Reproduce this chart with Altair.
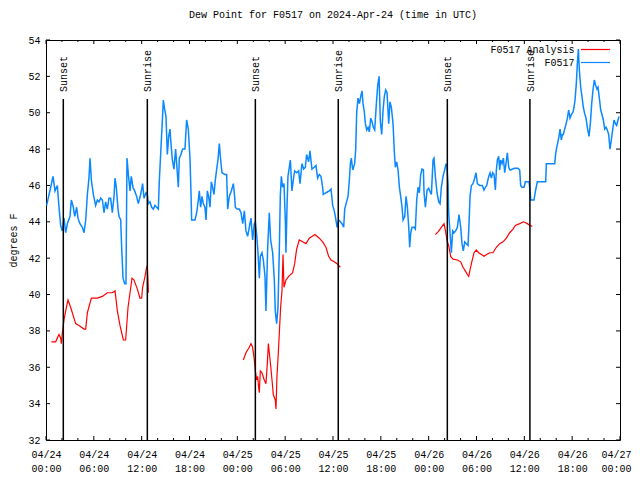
import json
import altair as alt
import pandas as pd

# ---------------- data (hours since 2024-04-24 00:00 UTC) ----------------
blue_hours = [
    0.08, 0.38, 0.59, 0.88, 1.13, 1.42, 1.63, 1.84, 2.05, 2.26, 2.47, 2.68, 3.01, 3.18, 3.43, 3.60,
    3.85, 4.01, 4.26, 4.56, 4.77, 4.98, 5.19, 5.39, 5.52, 5.69, 5.94, 6.23, 6.44, 6.65, 6.86, 7.07,
    7.28, 7.48, 7.69, 7.90, 8.11, 8.32, 8.53, 8.66, 8.82, 9.03, 9.16, 9.37, 9.49, 9.66, 9.87, 10.03,
    10.16, 10.33, 10.54, 10.70, 10.91, 11.12, 11.37, 11.58, 11.87,
    12.00, 12.12, 12.29, 12.54, 12.71, 12.84, 13.04, 13.25, 13.46, 13.67, 13.88, 14.09, 14.22, 14.38,
    14.55, 14.72, 14.84, 15.05, 15.22, 15.39, 15.55, 15.68, 15.85, 16.05, 16.26, 16.47, 16.60, 16.72,
    16.93, 17.14, 17.43, 17.64, 17.85, 18.06, 18.19, 18.27, 18.69, 18.90, 19.11, 19.23, 19.40, 19.57,
    19.73, 19.94, 20.07, 20.24, 20.40, 20.57, 20.74, 20.90, 21.07, 21.24, 21.41, 21.57, 21.74, 21.91,
    22.08, 22.45, 22.66, 22.79, 22.99, 23.25, 23.50, 23.66, 23.75, 23.95,
    24.25, 24.46, 24.67, 24.88, 25.08, 25.29, 25.50, 25.71, 25.92, 26.13, 26.26, 26.42, 26.55, 26.76,
    26.88, 27.09, 27.26, 27.47, 27.59, 27.80, 28.01, 28.18, 28.43, 28.64, 28.76, 28.93, 29.10, 29.27,
    29.39, 29.52, 29.68, 29.85, 30.02, 30.10, 30.23, 30.35, 30.52, 30.65, 30.85, 31.02, 31.19, 31.44,
    31.69, 31.86, 32.11, 32.32, 32.53, 32.69, 32.94, 33.11, 33.36, 33.66, 33.86, 34.07, 34.28, 34.49,
    34.70, 34.78, 35.12, 35.54, 35.75, 35.96, 36.16, 36.33,
    36.51, 36.72, 36.93, 37.13, 37.34, 37.47, 37.64, 37.89, 38.05, 38.18, 38.30, 38.47, 38.72, 38.85,
    38.97, 39.14, 39.31, 39.48, 39.64, 39.77, 39.94, 40.06, 40.23, 40.40, 40.56, 40.73, 40.90, 41.06,
    41.23, 41.44, 41.61, 41.78, 41.94, 42.11, 42.28, 42.44, 42.61, 42.78, 42.99, 43.15, 43.32, 43.53,
    43.70, 43.82, 43.99, 44.16, 44.33, 44.49, 44.66, 44.79, 45.00, 45.16, 45.33, 45.50, 45.62, 45.75,
    45.91, 46.17, 46.33, 46.50, 46.67, 46.83, 47.00, 47.17, 47.34, 47.42, 47.59, 47.80, 48.00,
    48.13, 48.34, 48.55, 48.67, 48.84, 49.05, 49.26, 49.43, 49.59, 49.80, 50.01, 50.18, 50.30, 50.43,
    50.51, 50.68, 50.85, 51.01, 51.18, 51.39, 51.60, 51.81, 52.02, 52.18, 52.35, 52.52, 52.73, 52.94,
    53.06, 53.19, 53.36, 53.56, 53.77, 53.94, 54.11, 54.40, 54.73, 54.94, 55.11, 55.28, 55.53, 55.70,
    55.86, 56.03, 56.20, 56.37, 56.49, 56.62, 56.78, 56.91, 57.03, 57.20, 57.37, 57.54, 57.70, 57.87,
    58.04, 58.21, 58.79, 59.21, 59.42, 59.54, 59.71, 59.96, 60.13, 60.59, 60.71, 60.80, 61.21, 61.42,
    61.63, 62.68, 62.76, 63.81, 63.93, 64.06, 64.22, 64.35, 64.48, 64.64, 64.77, 64.89, 65.06, 65.19,
    65.40, 65.56, 65.73, 65.90, 66.11, 66.23, 66.36, 66.52, 66.65, 66.78, 66.90, 67.07, 67.23, 67.40,
    67.57, 67.74, 67.90, 68.11, 68.28, 68.45, 68.61, 68.78, 68.95, 69.12, 69.24, 69.41, 69.58, 69.74,
    69.91, 70.08, 70.25, 70.41, 70.58, 70.75, 70.91, 71.08, 71.25, 71.42, 71.58, 71.75, 71.88,
]
blue_vals = [
    44.9, 45.5, 45.9, 46.5, 45.7, 46.0, 44.8, 43.8, 43.5, 44.2, 43.4, 43.9, 44.3, 45.2, 44.8, 44.3,
    44.8, 44.2, 43.9, 43.7, 43.4, 44.1, 45.5, 46.4, 47.5, 46.3, 45.5, 44.9, 45.2, 45.1, 45.3, 45.2,
    44.5, 45.1, 44.7, 45.3, 45.3, 44.5, 45.4, 46.4, 45.9, 44.7, 44.3, 44.1, 42.6, 40.9, 40.6, 40.6,
    47.5, 46.6, 45.7, 46.5, 45.9, 45.7, 45.4, 45.0, 45.5,
    45.8, 46.1, 45.3, 45.6, 45.5, 45.0, 45.1, 44.8, 44.7, 44.9, 44.8, 44.7, 46.3, 47.7,
    49.2, 50.7, 50.3, 49.8, 47.7, 48.7, 49.1, 48.3, 47.4, 46.9, 48.0, 46.7, 45.9, 47.5,
    47.7, 48.0, 48.0, 49.6, 49.1, 47.5, 45.6, 44.1, 44.1, 44.5, 45.2, 45.7, 44.8, 45.4,
    45.0, 44.8, 44.1, 45.7, 45.4, 44.8, 46.2, 45.9, 45.5, 46.3, 46.9, 47.4, 48.3, 47.4,
    46.7, 46.6, 46.6, 44.7, 45.4, 45.7, 46.1, 45.4, 44.8, 44.7,
    44.7, 44.5, 43.9, 44.6, 43.5, 43.2, 43.7, 44.2, 43.0, 43.9, 44.0, 43.3, 42.6, 40.9,
    42.1, 42.3, 41.9, 41.0, 39.1, 42.5, 44.5, 43.0, 42.3, 40.8, 39.1, 38.4, 39.3, 42.5,
    45.4, 46.5, 45.9, 46.1, 44.1, 42.3, 44.8, 46.5, 47.0, 47.4, 45.7, 46.3, 46.8, 46.7,
    46.8, 46.1, 47.2, 46.9, 47.0, 47.7, 47.3, 47.9, 46.9, 47.0, 47.1, 46.4, 46.6, 46.5,
    45.9, 45.5, 45.6, 45.7, 45.8, 44.9, 44.6, 44.2,
    43.7, 44.1, 44.0, 43.9, 43.7, 44.7, 45.0, 45.4, 46.3, 47.2, 47.5, 46.85, 47.2, 48.0,
    50.0, 50.8, 50.5, 50.9, 51.2, 50.5, 50.0, 49.4, 49.05, 49.2, 48.95, 49.7, 49.5, 49.2,
    49.05, 50.5, 51.5, 52.0, 49.5, 48.8, 50.15, 50.9, 51.25, 51.1, 49.4, 50.6, 50.3, 49.4,
    47.8, 47.0, 47.3, 46.85, 45.9, 45.4, 44.8, 44.1, 44.3, 45.4, 44.8, 43.7, 42.6, 43.4,
    43.7, 43.7, 43.6, 45.2, 45.9, 45.6, 46.6, 46.9, 46.85, 45.6, 44.8, 45.75, 45.85,
    45.7, 45.5, 47.4, 47.5, 46.5, 45.6, 45.1, 45.0, 45.9, 46.5, 46.85, 47.2, 47.0, 46.1,
    44.5, 43.4, 42.3, 43.5, 43.4, 43.5, 43.7, 44.4, 43.7, 42.8, 42.4, 42.9, 42.8, 42.7,
    43.9, 45.4, 46.0, 46.1, 46.4, 46.7, 46.1, 46.0, 46.0, 45.75, 45.9, 46.0, 46.5, 46.7,
    46.4, 46.7, 46.6, 45.75, 46.85, 47.4, 47.6, 46.85, 47.4, 47.2, 47.5, 46.7, 47.2, 47.8,
    47.0, 46.85, 46.95, 46.95, 46.85, 46.0, 45.9, 45.9, 46.2, 46.2, 45.75, 45.2, 45.2, 45.75,
    46.2, 46.2, 47.2, 47.2, 47.75, 48.1, 48.4, 48.7, 49.1, 48.5, 48.8, 48.8, 49.1, 49.3,
    49.7, 50.15, 49.7, 49.9, 50.05, 50.3, 50.7, 51.6, 52.7, 53.5, 52.35, 51.4, 50.9, 50.3,
    49.95, 49.7, 49.2, 48.7, 49.4, 50.5, 51.25, 51.8, 51.5, 51.3, 51.4, 50.8, 50.15, 49.9,
    49.6, 49.1, 49.2, 49.05, 48.8, 48.0, 48.5, 49.05, 49.6, 49.4, 49.3, 49.6, 49.8,
]

red1_hours = [0.67, 1.21, 1.63, 1.84, 1.92, 2.05, 2.26, 2.47, 2.76, 3.09, 3.72, 4.14, 4.77, 4.98,
              5.19, 5.69, 6.44, 7.07, 7.69, 8.32, 8.66, 8.95, 9.28, 9.70, 9.99, 10.29, 10.54,
              10.79, 11.04, 11.46, 11.79, 12.00, 12.12, 12.42, 12.63, 12.71, 12.79, 12.84]
red1_vals = [37.4, 37.4, 37.8, 37.6, 37.3, 37.9, 38.6, 39.1, 39.7, 39.3, 38.4, 38.3, 38.1, 38.1,
             39.0, 39.8, 39.8, 39.9, 40.1, 40.1, 40.2, 39.1, 38.3, 37.5, 37.5, 39.3, 40.1,
             40.9, 40.8, 40.3, 39.8, 39.8, 40.4, 41.0, 41.5, 41.6, 40.8, 40.1]

red2_hours = [24.75, 25.08, 25.50, 25.71, 25.92, 26.13, 26.26, 26.42, 26.55, 26.67, 26.76, 26.88,
              27.09, 27.38, 27.59, 27.76, 27.89, 28.01, 28.18, 28.35, 28.51, 28.76, 28.85, 28.97,
              29.14, 29.27, 29.43, 29.60, 29.73, 29.85, 30.10, 30.44, 30.94, 31.19, 31.44, 31.77,
              32.19, 32.61, 33.03, 33.74, 34.28, 34.70, 35.12, 35.45, 35.75, 36.16, 36.50, 36.92]
red2_vals = [36.4, 36.8, 37.1, 37.3, 37.1, 36.4, 35.8, 35.3, 35.5, 34.9, 34.6, 35.8,
             35.7, 35.3, 35.1, 36.2, 37.3, 36.8, 36.1, 35.3, 34.5, 34.2, 33.7, 35.5,
             36.8, 37.9, 39.3, 40.2, 42.2, 40.4, 40.8, 41.0, 41.2, 41.7, 42.5, 43.0,
             42.9, 42.8, 43.1, 43.3, 43.1, 42.9, 42.6, 42.1, 41.9, 41.8, 41.7, 41.5]

red3_hours = [48.84, 49.17, 49.59, 49.93, 50.09, 50.34, 50.51, 50.76, 51.06, 51.60, 52.02, 52.31,
              52.60, 52.85, 53.02, 53.36, 53.69, 53.98, 54.27, 54.61, 54.94, 55.28, 55.65, 56.07,
              56.49, 56.91, 57.33, 57.75, 58.16, 58.58, 58.87, 59.42, 59.92, 60.38, 60.71, 61.00]
red3_vals = [43.3, 43.45, 43.7, 43.9, 43.55, 42.9, 42.7, 42.1, 41.95, 41.9, 41.8, 41.5,
             41.3, 41.1, 41.0, 41.7, 42.3, 42.45, 42.3, 42.2, 42.1, 42.2, 42.3, 42.3,
             42.6, 42.8, 42.9, 43.1, 43.4, 43.6, 43.8, 43.9, 44.0, 43.9, 43.8, 43.75]

sun_hours = [2.17, 12.71, 26.26, 36.66, 50.34, 60.70]
sun_labels = ["Sunset", "Sunrise", "Sunset", "Sunrise", "Sunset", "Sunrise"]

series_names = ["F0517 Analysis", "F0517"]
series_colors = ["#ff0000", "#0a88ff"]

x_major = [0, 6, 12, 18, 24, 30, 36, 42, 48, 54, 60, 66, 72]
x_dates = ["04/24", "04/24", "04/24", "04/24", "04/25", "04/25", "04/25", "04/25",
           "04/26", "04/26", "04/26", "04/26", "04/27"]
x_times = ["00:00", "06:00", "12:00", "18:00", "00:00", "06:00", "12:00", "18:00",
           "00:00", "06:00", "12:00", "18:00", "00:00"]
x_minor = [2, 4, 8, 10, 14, 16, 20, 22, 26, 28, 32, 34, 38, 40, 44, 46, 50, 52, 56, 58, 62, 64, 68, 70]
y_major = [32, 34, 36, 38, 40, 42, 44, 46, 48, 50, 52, 54]

TITLE = "Dew Point for F0517 on 2024-Apr-24 (time in UTC)"
FONT = "Liberation Mono"
W, H = 574, 400

# ---------------- frames ----------------
blue_df = pd.DataFrame({"h": blue_hours, "v": blue_vals})
red_df = pd.concat([
    pd.DataFrame({"h": red1_hours, "v": red1_vals, "seg": "a"}),
    pd.DataFrame({"h": red2_hours, "v": red2_vals, "seg": "b"}),
    pd.DataFrame({"h": red3_hours, "v": red3_vals, "seg": "c"}),
])
sun_df = pd.DataFrame({"h": sun_hours, "label": sun_labels})
major_df = pd.DataFrame({"h": x_major})
minor_df = pd.DataFrame({"h": x_minor})
ytick_df = pd.DataFrame({"v": y_major})

label_expr = (
    f"[{json.dumps(x_dates)}[round(datum.value/6)], "
    f"{json.dumps(x_times)}[round(datum.value/6)]]"
)

xscale = alt.Scale(domain=[0, 72], nice=False, zero=False)
yscale = alt.Scale(domain=[32, 54], nice=False, zero=False)

X = alt.X("h:Q", scale=xscale, axis=alt.Axis(
    values=x_major, labelExpr=label_expr, title=None, grid=False, ticks=False, tickSize=0,
    domain=False, labelPadding=9, labelLineHeight=14, labelFont=FONT, labelFontSize=10,
    labelColor="black", labelFlush=False, labelOverlap=False,
    labelAlign=alt.ExprRef("datum.value >= 72 ? 'right' : 'center'"),
    labelOffset=alt.ExprRef("datum.value >= 72 ? 11 : 0")))
Y = alt.Y("v:Q", scale=yscale, axis=alt.Axis(
    values=y_major, title="degrees F", grid=False, ticks=False, tickSize=0, domain=False,
    labelPadding=6, labelFont=FONT, labelFontSize=10, labelColor="black",
    titleFont=FONT, titleFontSize=10, titleFontWeight="normal", titleColor="black",
    titleX=-33, titleY=200, titleBaseline="middle", titleAlign="center", titleAngle=270))

red_line = alt.Chart(red_df).mark_line(color=series_colors[0], strokeWidth=1.2).encode(
    x=X, y=Y, detail="seg:N")
blue_line = alt.Chart(blue_df).mark_line(color=series_colors[1], strokeWidth=1.5).encode(x=X, y=Y)

sun_rules = alt.Chart(sun_df).mark_rule(color="black", strokeWidth=1.5).encode(
    x=X, y=alt.value(H), y2=alt.value(59))
sun_text = alt.Chart(sun_df).mark_text(
    angle=270, align="left", baseline="middle", font=FONT, fontSize=10, color="black", dy=1
).encode(x=X, y=alt.value(52), text="label:N")

tick_major_b = alt.Chart(major_df).mark_rule(color="black").encode(x=X, y=alt.value(H), y2=alt.value(H - 4))
tick_major_t = alt.Chart(major_df).mark_rule(color="black").encode(x=X, y=alt.value(0), y2=alt.value(4))
tick_minor_b = alt.Chart(minor_df).mark_rule(color="black").encode(x=X, y=alt.value(H), y2=alt.value(H - 2))
tick_minor_t = alt.Chart(minor_df).mark_rule(color="black").encode(x=X, y=alt.value(0), y2=alt.value(2))
tick_y_l = alt.Chart(ytick_df).mark_rule(color="black").encode(y=Y, x=alt.value(0), x2=alt.value(4))
tick_y_r = alt.Chart(ytick_df).mark_rule(color="black").encode(y=Y, x=alt.value(W), x2=alt.value(W - 4))

# legend (top right, gnuplot style: label then line sample)
legend_layers = []
for name, colr, ypos in zip(series_names, series_colors, [9.5, 22.5]):
    ldf = pd.DataFrame({"name": [name]})
    legend_layers.append(alt.Chart(ldf).mark_text(
        align="right", baseline="middle", font=FONT, fontSize=10, color="black"
    ).encode(x=alt.value(528.5), y=alt.value(ypos), text="name:N"))
    legend_layers.append(alt.Chart(ldf).mark_rule(color=colr, strokeWidth=1.2).encode(
        x=alt.value(535), x2=alt.value(564), y=alt.value(ypos)))

chart = alt.layer(
    tick_major_b, tick_major_t, tick_minor_b, tick_minor_t, tick_y_l, tick_y_r,
    red_line, blue_line, sun_rules, sun_text, *legend_layers,
).properties(
    width=W, height=H,
    title=alt.TitleParams(TITLE, font=FONT, fontSize=10, fontWeight="normal", color="black",
                          anchor="middle", baseline="middle", offset=10, frame="group"),
    autosize=alt.AutoSizeParams(type="none"),
    padding={"left": 38, "top": 32, "right": 12, "bottom": 40},
    background="white",
).configure_view(stroke="black", strokeWidth=1)

chart.save("out.html", embed_options={"renderer": "svg", "actions": False})
